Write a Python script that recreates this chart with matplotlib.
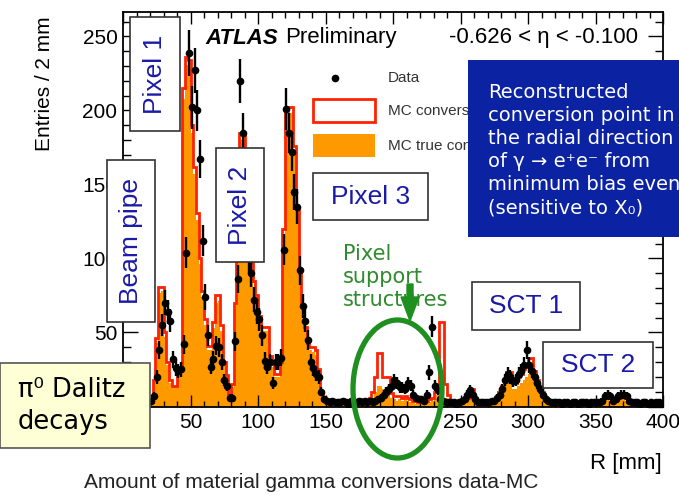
import numpy as np
import matplotlib
matplotlib.use('Agg')
import matplotlib.pyplot as plt
import matplotlib.transforms as mtransforms
from matplotlib.patches import Rectangle, Ellipse, FancyArrow
from matplotlib.lines import Line2D

plt.rcParams['font.family'] = ['Liberation Sans', 'DejaVu Sans']

# 2 mm bins in conversion radius R, 20 -> 400 mm
r_edges = np.arange(20, 402, 2)

# MC reconstructed conversions (red outline)
mc_reco = [
    3, 18, 46, 81, 81, 50, 30, 18, 14, 14,
    24, 25, 215, 236, 234, 190, 162, 131, 100, 78,
    59, 41, 41, 57, 75, 75, 55, 30, 21, 7,
    15, 70, 120, 185, 185, 170, 130, 97, 85, 75,
    61, 54, 54, 54, 34, 29, 22, 22, 30, 120,
    202, 202, 202, 176, 135, 90, 68, 54, 43, 40,
    40, 38, 25, 9, 5, 4, 3, 3, 4, 3,
    3, 4, 3, 3, 4, 3, 3, 4, 5, 4,
    4, 6, 10, 20, 36, 36, 20, 20, 20, 9,
    7, 7, 7, 6, 7, 6, 5, 4, 4, 3,
    3, 4, 4, 5, 6, 10, 15, 57, 57, 15,
    8, 4, 3, 3, 3, 3, 4, 6, 12, 12,
    6, 3, 3, 3, 3, 4, 3, 4, 6, 10,
    14, 18, 23, 23, 17, 16, 20, 22, 25, 28,
    33, 33, 24, 18, 14, 10, 6, 4, 3, 3,
    3, 2, 3, 3, 2, 3, 3, 2, 3, 3,
    2, 3, 3, 3, 3, 3, 3, 5, 7, 8,
    6, 4, 4, 6, 8, 8, 6, 3, 3, 2,
    3, 2, 3, 2, 3, 2, 2, 3, 2, 3,
]

# MC true conversions (orange fill)
mc_true = [
    2, 16, 43, 77, 78, 47, 28, 16, 13, 13,
    22, 23, 208, 231, 229, 185, 157, 126, 96, 74,
    55, 38, 38, 53, 70, 71, 51, 28, 19, 6,
    13, 66, 115, 180, 180, 165, 125, 92, 81, 71,
    58, 51, 51, 51, 32, 27, 20, 20, 28, 115,
    198, 199, 198, 172, 130, 86, 65, 51, 40, 38,
    37, 35, 23, 8, 4, 3, 2, 2, 3, 2,
    2, 3, 2, 2, 3, 2, 2, 3, 3, 3,
    3, 4, 6, 10, 14, 14, 12, 10, 11, 6,
    5, 4, 5, 4, 5, 4, 3, 3, 2, 2,
    2, 3, 3, 3, 4, 6, 8, 14, 16, 6,
    4, 3, 2, 2, 2, 2, 3, 4, 8, 8,
    4, 2, 2, 2, 2, 3, 2, 3, 4, 7,
    10, 13, 16, 17, 12, 12, 14, 16, 18, 20,
    22, 22, 17, 13, 10, 7, 4, 3, 2, 2,
    2, 1, 2, 2, 1, 2, 2, 1, 2, 2,
    1, 2, 2, 2, 2, 2, 2, 3, 5, 5,
    4, 2, 3, 4, 5, 5, 4, 2, 2, 1,
    2, 1, 2, 1, 2, 1, 1, 2, 1, 2,
]

# data, minimum bias events
data = [
    4, 7, 20, 38, 55, 70, 64, 58, 32, 26,
    24, 25, 42, 104, 239, 202, 227, 200, 167, 112,
    74, 48, 27, 32, 41, 40, 30, 18, 14, 6,
    6, 44, 86, 220, 185, 140, 100, 90, 72, 64,
    59, 48, 31, 27, 30, 16, 30, 30, 33, 106,
    201, 185, 172, 145, 135, 92, 68, 58, 45, 30,
    26, 22, 20, 10, 5, 4, 3, 4, 3, 3,
    3, 4, 3, 2, 4, 3, 3, 4, 3, 4,
    3, 4, 3, 4, 5, 6, 8, 10, 12, 14,
    18, 16, 13, 13, 12, 16, 14, 8, 6, 5,
    5, 4, 8, 23, 54, 14, 11, 5, 4, 3,
    3, 3, 3, 2, 3, 4, 5, 8, 11, 8,
    5, 3, 3, 3, 3, 3, 4, 4, 6, 8,
    12, 18, 22, 20, 17, 18, 22, 24, 28, 38,
    28, 24, 20, 16, 12, 8, 5, 4, 3, 3,
    3, 3, 2, 3, 3, 2, 3, 3, 2, 3,
    3, 3, 2, 3, 3, 3, 3, 4, 7, 8,
    7, 4, 5, 7, 8, 8, 7, 4, 3, 3,
    3, 2, 3, 3, 2, 3, 2, 3, 3, 2,
]

W, H = 679, 497
fig = plt.figure(figsize=(W / 100, H / 100), dpi=100)
# pixel coordinates, origin top-left
pix = mtransforms.Affine2D().scale(1 / W, -1 / H).translate(0, 1) + fig.transFigure

ax = fig.add_axes([123 / W, 1 - 406.5 / H, 540 / W, 394.5 / H])
ax.stairs(mc_true, r_edges, fill=True, color='#ff9900', zorder=1)
ax.stairs(mc_reco, r_edges, color='#ff2200', lw=2, zorder=2)
centers = (r_edges[:-1] + r_edges[1:]) / 2
d = np.array(data, dtype=float)
ax.errorbar(centers, d, yerr=np.sqrt(d), xerr=1, fmt='o', ms=4.5, color='k',
            lw=1.7, capsize=0, zorder=3)

ax.set_xlim(0, 400)
ax.set_ylim(0, 266.5)
ax.set_xticks(np.arange(0, 401, 50))
ax.set_yticks(np.arange(0, 251, 50))
ax.set_xticks(np.arange(0, 401, 10), minor=True)
ax.set_yticks(np.arange(0, 261, 10), minor=True)
ax.tick_params(which='both', direction='in', top=True, right=True, width=1, labelsize=15)
ax.tick_params(axis='x', which='major', length=8.5, pad=5)
ax.tick_params(axis='x', which='minor', length=4.5)
ax.tick_params(axis='y', which='major', length=11, pad=4)
ax.tick_params(axis='y', which='minor', length=5.5)
for s in ax.spines.values():
    s.set_linewidth(1.3)

# axis titles, ROOT style
fig.text(45, 84, 'Entries / 2 mm', transform=pix, rotation=90, ha='center', va='center', fontsize=15)
fig.text(662, 463, 'R [mm]', transform=pix, ha='right', va='center', fontsize=16)
fig.text(311, 483, 'Amount of material gamma conversions data-MC', transform=pix,
         ha='center', va='center', fontsize=15, color='#222222')

fig.text(205, 38, 'ATLAS', transform=pix, va='center', fontsize=16, fontweight='bold', fontstyle='italic')
fig.text(285, 38, 'Preliminary', transform=pix, va='center', fontsize=16)
fig.text(638, 38, '-0.626 < η < -0.100', transform=pix, ha='right', va='center', fontsize=16)

# legend
fig.add_artist(Line2D([335], [78], marker='o', ms=4.5, color='k', transform=pix, zorder=5))
fig.add_artist(Rectangle((313, 99), 62, 23, transform=pix, fc='white', ec='#ff2200', lw=2, zorder=5))
fig.add_artist(Rectangle((313, 134), 62, 23, transform=pix, fc='#ff9900', ec='none', zorder=5))
for yy, lab in [(78, 'Data'), (111, 'MC conversions'), (146, 'MC true conversions')]:
    fig.text(388, yy, lab, transform=pix, va='center', fontsize=11, color='#333333', zorder=5)


def label_box(x0, y0, x1, y1, text, rot=0):
    fig.add_artist(Rectangle((x0, y0), x1 - x0, y1 - y0, transform=pix,
                             fc='white', ec='#333333', lw=1.2, zorder=10))
    fig.text((x0 + x1) / 2, (y0 + y1) / 2, text, transform=pix, rotation=rot,
             ha='center', va='center', color='#1a1aa8', fontsize=19, zorder=11)


label_box(130, 17, 180, 131, 'Pixel 1', 90)
label_box(107, 160, 155, 322, 'Beam pipe', 90)
label_box(216, 148, 264, 262, 'Pixel 2', 90)
label_box(313, 173, 428, 220, 'Pixel 3')
label_box(472, 282, 580, 330, 'SCT 1')
label_box(543, 342, 653, 388, 'SCT 2')

# pi0 Dalitz box
fig.add_artist(Rectangle((0, 363), 150, 85, transform=pix, fc='#ffffd5', ec='#555555', lw=1.2, zorder=10))
fig.text(18, 406, 'π⁰ Dalitz\ndecays', transform=pix, ha='left', va='center', fontsize=18.5,
         linespacing=1.28, family='DejaVu Sans', zorder=11)

# blue description box
fig.add_artist(Rectangle((468, 60), 220, 177, transform=pix, fc='#0b22a3', ec='none', zorder=15))
fig.text(488, 150, 'Reconstructed\nconversion point in\nthe radial direction\n'
         'of γ → e⁺e⁻ from\nminimum bias events\n(sensitive to X₀)',
         transform=pix, ha='left', va='center', fontsize=14, linespacing=1.27,
         color='white', family='DejaVu Sans', zorder=16)

# pixel support structures
green = '#1f8f1f'
fig.text(343, 277, 'Pixel\nsupport\nstructures', transform=pix, ha='left', va='center',
         fontsize=15, linespacing=1.2, color='#2e8b2e', family='DejaVu Sans', zorder=12)
fig.add_artist(Ellipse((397.5, 389), 89, 138, transform=pix, fill=False, ec=green, lw=3.8, zorder=13))
fig.add_artist(FancyArrow(410, 284, 0, 37, width=6, head_width=18, head_length=24,
                          length_includes_head=True, transform=pix, color=green, zorder=14))

fig.savefig('out.png', dpi=100)
